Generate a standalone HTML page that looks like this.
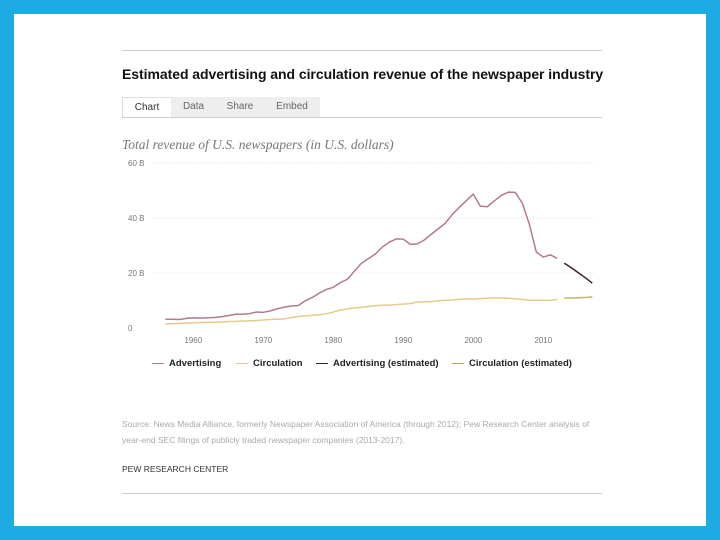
<!DOCTYPE html>
<html><head><meta charset="utf-8"><style>
body{margin:0;width:720px;height:540px;background:#1eaae2;font-family:"Liberation Sans",sans-serif;overflow:hidden}
#card{position:absolute;left:14px;top:14px;width:692px;height:512px;background:#fff}
.hr{position:absolute;left:122px;width:480px;height:1px;background:#ccc}
#title{position:absolute;left:122px;top:66px;font-size:14px;font-weight:bold;color:#111;white-space:nowrap;letter-spacing:-0.05px}
.tab{position:absolute;top:97px;height:20px;font-size:10px;color:#666;line-height:20px;text-align:center;background:#eee}
.leg{position:absolute;top:358px;font-size:9.5px;font-weight:bold;color:#222;white-space:nowrap}
.leg i{display:inline-block;width:12px;height:1.5px;vertical-align:middle;margin-right:5px}
.src{position:absolute;left:122px;font-size:8.5px;color:#aaa;white-space:nowrap}
</style></head><body>
<div id="card"></div>
<div class="hr" style="top:50px"></div>
<div id="title">Estimated advertising and circulation revenue of the newspaper industry</div>
<div class="tab" style="left:122px;width:48px;background:#fff;border:1px solid #ddd;border-bottom:none;color:#333;height:19px">Chart</div>
<div class="tab" style="left:171px;width:45px">Data</div>
<div class="tab" style="left:216px;width:48px">Share</div>
<div class="tab" style="left:264px;width:56px">Embed</div>
<div class="hr" style="top:117px"></div>
<div style="position:absolute;left:122px;top:137px;font-family:'Liberation Serif',serif;font-style:italic;font-size:13.5px;color:#777">Total revenue of U.S. newspapers (in U.S. dollars)</div>
<svg id="chart" width="720" height="540" style="position:absolute;left:0;top:0"></svg>
<div class="leg" style="left:152px"><i style="background:#b07a93"></i>Advertising</div>
<div class="leg" style="left:236px"><i style="background:#e3cc8c"></i>Circulation</div>
<div class="leg" style="left:316px"><i style="background:#3a2233"></i>Advertising (estimated)</div>
<div class="leg" style="left:452px"><i style="background:#b9a257"></i>Circulation (estimated)</div>
<div class="src" style="top:419px">Source: News Media Alliance, formerly Newspaper Association of America (through 2012); Pew Research Center analysis of</div>
<div class="src" style="top:435px">year-end SEC filings of publicly traded newspaper companies (2013-2017).</div>
<div class="src" style="top:464px;color:#333">PEW RESEARCH CENTER</div>
<div class="hr" style="top:493px"></div>
<script>
const adYears=[1956,1957,1958,1959,1960,1961,1962,1963,1964,1965,1966,1967,1968,1969,1970,1971,1972,1973,1974,1975,1976,1977,1978,1979,1980,1981,1982,1983,1984,1985,1986,1987,1988,1989,1990,1991,1992,1993,1994,1995,1996,1997,1998,1999,2000,2001,2002,2003,2004,2005,2006,2007,2008,2009,2010,2011,2012];
const adValues=[3.2,3.2,3.1,3.5,3.7,3.6,3.7,3.8,4.1,4.5,5.0,5.0,5.2,5.8,5.7,6.2,7.0,7.6,8.0,8.2,9.9,11.1,12.7,14.0,14.8,16.5,17.7,20.6,23.5,25.2,26.9,29.4,31.2,32.4,32.3,30.4,30.6,32.0,34.1,36.1,38.1,41.3,43.9,46.3,48.7,44.3,44.1,46.2,48.2,49.4,49.3,45.4,37.8,27.6,25.8,26.6,25.3];
const circValues=[1.5,1.6,1.7,1.8,1.9,2.0,2.1,2.1,2.2,2.3,2.4,2.5,2.6,2.7,2.9,3.1,3.2,3.3,3.8,4.2,4.4,4.6,4.8,5.2,5.8,6.5,6.9,7.3,7.5,7.8,8.1,8.3,8.3,8.5,8.7,8.9,9.4,9.5,9.6,9.9,10.1,10.2,10.4,10.6,10.5,10.7,10.8,11.0,10.9,10.8,10.6,10.4,10.1,10.1,10.1,10.0,10.4];
const estYears=[2013,2014,2015,2016,2017];
const adEstValues=[23.6,21.9,20.1,18.3,16.3];
const circEstValues=[10.9,10.9,11.0,11.1,11.3];
const yTicks=[0,20,40,60];
const yTickLabels=['0','20 B','40 B','60 B'];
const xTicks=[1960,1970,1980,1990,2000,2010];
const svg=document.getElementById('chart');
const NS='http://www.w3.org/2000/svg';
const x=y=>193.3+(y-1960)*7.0;
const yv=v=>328-v*2.75;
function mk(tag,attrs){const e=document.createElementNS(NS,tag);for(const k in attrs)e.setAttribute(k,attrs[k]);svg.appendChild(e);return e;}
yTicks.forEach((t,i)=>{
  if(t>0){const g=mk('line',{x1:155,x2:595,y1:yv(t),y2:yv(t),stroke:'#e2e2e2','stroke-dasharray':'1,2'});
  
  }
  const l=mk('text',{x:128,y:yv(t)+3,'font-size':8,fill:'#777','font-family':'Liberation Sans, sans-serif'});
  l.textContent=yTickLabels[i];
  
  
});
xTicks.forEach(t=>{
  const l=mk('text',{x:x(t),y:343,'font-size':8,fill:'#777','text-anchor':'middle','font-family':'Liberation Sans, sans-serif'});
  l.textContent=t;
  
  
});
function line(years,vals,color,name,w){
  const p=mk('polyline',{points:years.map((yr,i)=>x(yr)+','+yv(vals[i])).join(' '),fill:'none',stroke:color,'stroke-width':w,'stroke-linejoin':'round'});
  
  
}
line(adYears,circValues,'#e3cc8c','circulation-line',1.5);
line(estYears,circEstValues,'#c9b269','circulation-estimated-line',1.5);
line(adYears,adValues,'#b07a93','advertising-line',1.5);
line(estYears,adEstValues,'#3a2233','advertising-estimated-line',1.5);
</script>
</body></html>
